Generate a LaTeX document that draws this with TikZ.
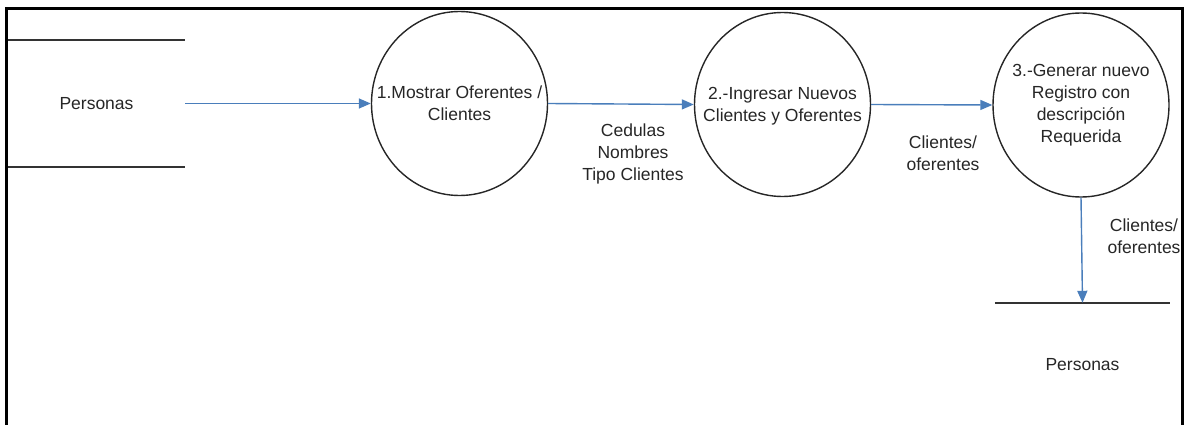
\documentclass[tikz,border=0pt]{standalone}
\usepackage{fontspec}
\setmainfont{Liberation Sans}
\usetikzlibrary{arrows.meta,shapes.geometric}
\definecolor{flowblue}{HTML}{4A7EBB}
\definecolor{storegray}{HTML}{333333}
\begin{document}
\begin{tikzpicture}[x=1pt,y=-1pt,
  txt/.style={font=\fontsize{17.5}{22}\selectfont, align=center, text=black!85},
  process/.style={ellipse, draw=black!85, line width=1.4pt,
    minimum width=176pt, minimum height=184pt, inner sep=0pt},
  store/.style={txt, minimum width=177pt, minimum height=124pt, inner sep=0pt},
  storeline/.style={draw=storegray, line width=1.8pt},
  flow/.style={draw=flowblue, line width=1.4pt,
    -{Triangle[length=12pt,width=10pt]}},
  flowlabel/.style={txt}
]
\useasboundingbox (0,0) rectangle (1190,425);
% outer frame (open at the bottom)
\draw[line width=3pt] (6,425) -- (6,9) -- (1182,9) -- (1182,425);

% data stores
\node[store, minimum height=127pt] (s1) at (96.5,103.5) {Personas};
\draw[storeline] (s1.north west) -- (s1.north east);
\draw[storeline] (s1.south west) -- (s1.south east);

\node[store, minimum width=175pt] (s2) at (1082.5,365) {Personas};
\draw[storeline] (s2.north west) -- (s2.north east);

% processes: fixed-size bubbles with their captions centred inside
\node[process] (c1) at (459.5,103.5) {};
\node[txt] (t1) at (c1.center) {1.Mostrar Oferentes /\\Clientes};
\node[process] (c2) at (782.5,104.5) {};
\node[txt] (t2) at ([yshift=-1.5pt]c2.center) {2.-Ingresar Nuevos\\Clientes y Oferentes};
\node[process] (c3) at (1081,105) {};
\node[txt] (t3) at (c3.center) {3.-Generar nuevo\\Registro con\\descripción\\Requerida};

% flows
\draw[flow] (s1.east) -- (c1.west);
\draw[flow] (c1.east) -- (c2.west);
\draw[flow] (c2.east) -- (c3.west);
\draw[flow] (c3.south) -- (s2.north);

% flow labels
\node[flowlabel] (l1) at (633,154) {Cedulas\\Nombres\\Tipo Clientes};
\node[flowlabel] (l2) at (943,153) {Clientes/\\oferentes};
\node[flowlabel] (l3) at (1144,236) {Clientes/\\oferentes};
\end{tikzpicture}
\end{document}
